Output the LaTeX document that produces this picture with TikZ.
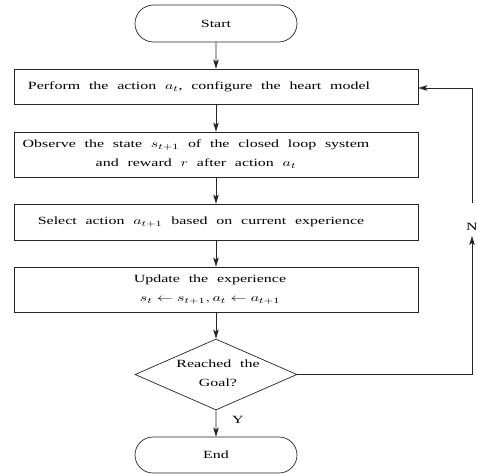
\documentclass[tikz,border=0pt]{standalone}
\usepackage{fontspec}
\usepackage{graphicx}
\setmainfont{Liberation Serif}[WordSpace=2.2]
\usetikzlibrary{shapes.geometric,shapes.misc,arrows.meta}
\newcommand{\wide}[1]{\scalebox{1.45}[1]{#1}}
\newcommand{\twolines}[2]{\wide{\begin{tabular}{@{}c@{}}#1\\[6pt]#2\end{tabular}}}
\begin{document}
\begin{tikzpicture}[x=1pt,y=-1pt,
  font=\fontsize{11}{13}\selectfont,
  line width=0.7pt,
  every node/.style={text=black},
  box/.style={draw=black!85, rectangle, minimum width=404pt, inner sep=0pt},
  term/.style={draw=black!85, rounded rectangle, minimum width=162pt, inner sep=0pt},
  dec/.style={draw=black!85, diamond, minimum width=162pt, minimum height=71pt, inner sep=0pt},
  txt/.style={inner sep=0pt},
  arr/.style={draw=black!85, -{Stealth[length=9pt,width=5.5pt,inset=2pt]}}]
\useasboundingbox (0,0) rectangle (477,474);
\node[term, minimum height=37pt] (start) at (216,23.5) {\wide{Start}};
\node[box, minimum height=35pt] (b1) at (216,86.5) {};
\node[txt] (t1) at (199,87) {\wide{Perform the action $a_t$, configure the heart model}};
\node[box, minimum height=45pt] (b2) at (216,154.5) {};
\node[txt] (t2) at (196,154.5) {\twolines{Observe the state $s_{t+1}$ of the closed loop system}{and reward $r$ after action $a_t$}};
\node[box, minimum height=36pt] (b3) at (216,222) {};
\node[txt] (t3) at (201,222) {\wide{Select action $a_{t+1}$ based on current experience}};
\node[box, minimum height=45pt] (b4) at (216,289.5) {};
\node[txt] (t4) at (210,289.5) {\twolines{Update the experience}{$s_t\leftarrow s_{t+1}, a_t\leftarrow a_{t+1}$}};
\node[dec] (d) at (216,374.5) {};
\node[txt] (td) at (218,374.5) {\twolines{Reached the}{Goal?}};
\node[term, minimum height=36pt] (end) at (216,455) {\wide{End}};
\node[txt] (yl) at (238,420) {\wide{Y}};
\node[txt] (nl) at (472,227) {\wide{N}};
\coordinate (nlow) at (472,236);
\coordinate (nhigh) at (472,203);
\draw[arr] (start) -- (b1);
\draw[arr] (b1) -- (b2);
\draw[arr] (b2) -- (b3);
\draw[arr] (b3) -- (b4);
\draw[arr] (b4) -- (d);
\draw[arr] (d) -- (end);
\draw[arr] (d.east) -| (nlow);
\draw[arr] (nhigh) |- ([yshift=-1.5pt]b1.east);
\end{tikzpicture}
\end{document}
